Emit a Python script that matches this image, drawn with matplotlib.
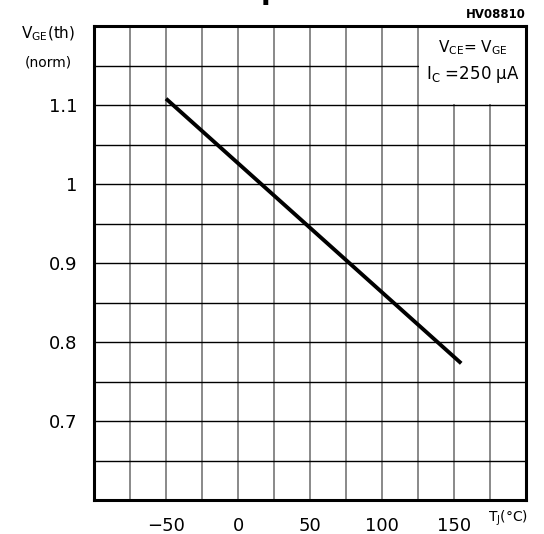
import matplotlib.pyplot as plt
from matplotlib.patches import Rectangle
import numpy as np

# curve: normalised gate threshold voltage vs junction temperature
temp = [-50, 155]
vth_norm = [1.108, 0.773]

x_labels = [-50, 0, 50, 100, 150]
y_labels = [0.7, 0.8, 0.9, 1.0, 1.1]
y_label_txt = ["0.7", "0.8", "0.9", "1", "1.1"]

plt.rcParams['font.family'] = ['DejaVu Sans']

fig = plt.figure(figsize=(5.44, 5.34), dpi=100)
ax = fig.add_axes([94/544, 1 - 500/534, 432/544, 474/534])

ax.set_xlim(-100, 200)
ax.set_ylim(0.6, 1.2)

ax.set_xticks(x_labels)
ax.set_xticks(np.arange(-100, 201, 25), minor=True)
ax.set_yticks(y_labels)
ax.set_yticklabels(y_label_txt)
ax.set_yticks(np.arange(0.6, 1.201, 0.05), minor=True)
ax.tick_params(which='both', length=0)
ax.tick_params(axis='x', pad=12, labelsize=13)
ax.tick_params(axis='y', pad=12, labelsize=13)

ax.xaxis.grid(True, which='both', color='#808080', lw=1.3)
ax.yaxis.grid(True, which='both', color='black', lw=1.0)
ax.set_axisbelow(True)

for s in ax.spines.values():
    s.set_linewidth(2.2)

# white box for the test conditions
ax.add_patch(Rectangle((125.8, 1.1015), 80, 0.1, facecolor='white',
                       edgecolor='none', zorder=1.5))
ax.text(163, 1.172, r'V$_{\rm CE}$= V$_{\rm GE}$', ha='center', va='center', fontsize=11)
ax.text(163, 1.138, r'I$_{\rm C}$ =250 μA', ha='center', va='center', fontsize=12)

ax.plot(temp, vth_norm, color='black', lw=2.8, solid_capstyle='butt', zorder=3)

fig.text(48/544, 1 - 34/534, r'V$_{\rm GE}$(th)', ha='center', va='center', fontsize=11)
fig.text(48/544, 1 - 62/534, '(norm)', ha='center', va='center', fontsize=10)
fig.text(508/544, 1 - 518/534, r'T$_{\rm J}$(°C)', ha='center', va='center', fontsize=10)
fig.text(526/544, 1 - 14/534, 'HV08810', ha='right', va='center', fontsize=8.5,
         fontweight='bold')
# bottom of a title cut off by the top edge in the original
fig.text(271/544, 1 + 1/534, 'p', ha='center', va='baseline', fontsize=20,
         fontweight='bold')

fig.savefig('out.png', dpi=100)
